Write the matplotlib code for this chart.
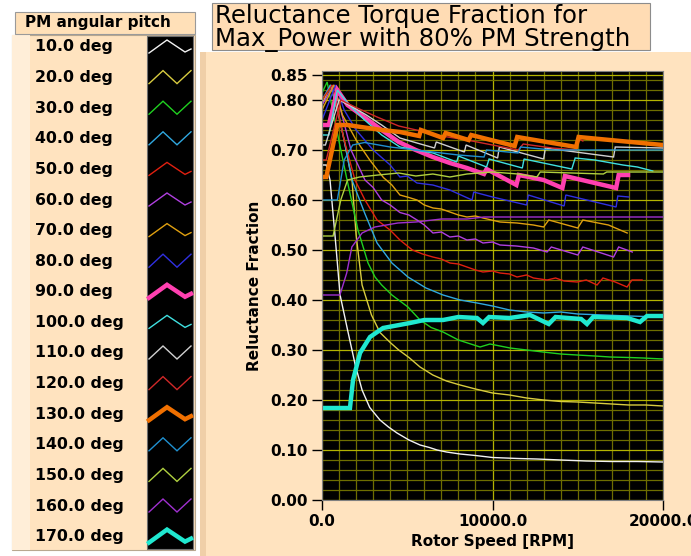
import matplotlib
matplotlib.use("Agg")
import matplotlib.pyplot as plt
from matplotlib.patches import Rectangle
from matplotlib.ticker import MultipleLocator, FormatStrFormatter

# ---- data (rotor speed in RPM, reluctance fraction) ----
rpm_10 = [0, 250, 470, 760, 1060, 1500, 1950, 2350, 2800, 3400, 3900, 4400, 5100, 5750, 6300,
          6750, 7300, 8100, 9000, 10000, 11500, 12600, 14000, 15500, 17000, 18500, 20000]
rf_10 = [0.67, 0.67, 0.64, 0.53, 0.41, 0.34, 0.27, 0.22, 0.185, 0.16, 0.146, 0.134, 0.12, 0.11, 0.105,
         0.10, 0.096, 0.092, 0.089, 0.085, 0.083, 0.082, 0.080, 0.078, 0.077, 0.077, 0.076]

rpm_20 = [0, 500, 900, 1300, 1760, 2000, 2350, 2900, 3400, 4000, 4500, 5100, 5750, 6500, 7300,
          8100, 9000, 10000, 11000, 12000, 13000, 14000, 15000, 16000, 17000, 18000, 19000, 20000]
rf_20 = [0.79, 0.83, 0.78, 0.72, 0.64, 0.53, 0.43, 0.37, 0.335, 0.315, 0.30, 0.285, 0.266, 0.25, 0.238,
         0.23, 0.222, 0.214, 0.21, 0.204, 0.20, 0.197, 0.196, 0.194, 0.192, 0.19, 0.19, 0.188]

rpm_30 = [0, 300, 800, 1470, 2110, 2700, 3110, 3500, 4100, 5040, 5750, 6400, 7100, 8000, 9270,
          9850, 11030, 12000, 12960, 14000, 14960, 16000, 16890, 18000, 18830, 20000]
rf_30 = [0.814, 0.836, 0.75, 0.64, 0.54, 0.474, 0.446, 0.43, 0.41, 0.386, 0.36, 0.345, 0.336, 0.32, 0.306,
         0.312, 0.304, 0.30, 0.296, 0.292, 0.29, 0.288, 0.286, 0.285, 0.284, 0.282]

rpm_40 = [0, 500, 1060, 1760, 2500, 3230, 4100, 5040, 6100, 7100, 8100, 9100, 10000, 11000, 12000,
          13000, 14000, 15000, 16500, 18000, 20000]
rf_40 = [0.80, 0.83, 0.76, 0.64, 0.574, 0.514, 0.474, 0.446, 0.424, 0.41, 0.40, 0.394, 0.388, 0.38, 0.376,
         0.374, 0.376, 0.372, 0.37, 0.368, 0.366]

rpm_50 = [0, 600, 1300, 1935, 2520, 3230, 3990, 4570, 5300, 5900, 6500, 7000, 7500, 8000, 8500,
          9000, 9440, 10000, 10440, 11000, 11440, 12000, 12400, 13200, 13700, 14200, 14960, 15500,
          16130, 16480, 17200, 17890, 18180, 18770]
rf_50 = [0.80, 0.83, 0.72, 0.64, 0.60, 0.56, 0.54, 0.52, 0.50, 0.492, 0.486, 0.482, 0.474, 0.472, 0.466,
         0.46, 0.456, 0.458, 0.454, 0.452, 0.446, 0.45, 0.444, 0.44, 0.444, 0.438, 0.436, 0.44,
         0.43, 0.444, 0.436, 0.426, 0.44, 0.44]

rpm_60 = [0, 700, 1100, 1700, 2520, 3000, 3500, 4000, 4570, 5100, 5570, 6000, 6510, 7000, 7500,
          8000, 8500, 9000, 9440, 10000, 10440, 11400, 12400, 13200, 13450, 15000, 15300, 17100,
          17400, 18200]
rf_60 = [0.79, 0.83, 0.78, 0.70, 0.64, 0.625, 0.60, 0.59, 0.575, 0.57, 0.56, 0.55, 0.534, 0.536, 0.526,
         0.528, 0.52, 0.522, 0.514, 0.516, 0.51, 0.508, 0.504, 0.496, 0.506, 0.49, 0.506, 0.486,
         0.506, 0.496]

rpm_70 = [0, 700, 1200, 2000, 2800, 3600, 4100, 4570, 5100, 5570, 6000, 6510, 7000, 7500, 8000,
          8500, 9000, 9440, 10440, 11440, 12400, 13000, 13300, 15000, 15300, 16800, 17900]
rf_70 = [0.78, 0.83, 0.77, 0.72, 0.68, 0.645, 0.63, 0.61, 0.605, 0.60, 0.59, 0.584, 0.582, 0.576, 0.57,
         0.566, 0.568, 0.564, 0.556, 0.554, 0.55, 0.546, 0.56, 0.544, 0.56, 0.55, 0.534]

rpm_80 = [0, 800, 1300, 2000, 3000, 4000, 4570, 5000, 5570, 6500, 7500, 8800, 8900, 10000, 12000,
          12100, 14200, 14300, 17250, 17350, 18000]
rf_80 = [0.76, 0.83, 0.78, 0.74, 0.70, 0.67, 0.646, 0.648, 0.634, 0.63, 0.62, 0.60, 0.616, 0.606, 0.59,
         0.61, 0.588, 0.61, 0.586, 0.608, 0.606]

rpm_90 = [0, 400, 900, 1500, 2500, 3500, 4500, 5500, 6500, 7500, 8500, 9500, 9650, 11400, 11550,
          13000, 14100, 14250, 17250, 17400, 17950]
rf_90 = [0.75, 0.75, 0.82, 0.79, 0.765, 0.74, 0.716, 0.70, 0.686, 0.674, 0.664, 0.652, 0.662, 0.63, 0.65,
         0.64, 0.624, 0.648, 0.624, 0.65, 0.65]

rpm_100 = [0, 400, 900, 1600, 2500, 3500, 4570, 5500, 6510, 7900, 8000, 9650, 9800, 11750, 11850,
           14650, 14850, 16000, 17650, 18500, 19400]
rf_100 = [0.73, 0.73, 0.82, 0.79, 0.76, 0.73, 0.706, 0.70, 0.694, 0.676, 0.688, 0.666, 0.682, 0.664, 0.682,
          0.662, 0.684, 0.68, 0.67, 0.666, 0.658]

rpm_110 = [0, 200, 1000, 1800, 2600, 3500, 4570, 5570, 6600, 6700, 8350, 8450, 10300, 10400, 13000,
           13100, 17100, 17200, 20000]
rf_110 = [0.71, 0.71, 0.80, 0.786, 0.77, 0.75, 0.724, 0.714, 0.704, 0.716, 0.696, 0.71, 0.684, 0.706, 0.682,
          0.704, 0.686, 0.706, 0.704]

rpm_120 = [0, 250, 1100, 2000, 3230, 4500, 5800, 7000, 8500, 10000, 11500, 11800, 13500, 14900, 15100, 15300]
rf_120 = [0.68, 0.68, 0.80, 0.785, 0.766, 0.748, 0.738, 0.728, 0.72, 0.71, 0.70, 0.712, 0.704, 0.70, 0.722, 0.718]

rpm_130 = [0, 250, 900, 1500, 2500, 3500, 4570, 5700, 5800, 7100, 7250, 8600, 8750, 11300, 11450,
           14900, 15050, 17500, 20000]
rf_130 = [0.646, 0.646, 0.75, 0.75, 0.745, 0.74, 0.736, 0.728, 0.74, 0.724, 0.734, 0.72, 0.73, 0.708, 0.726,
          0.706, 0.726, 0.718, 0.71]

rpm_140 = [0, 900, 1300, 1800, 2500, 4000, 5500, 7000, 8000, 9500, 9650, 11500, 11650, 13500, 14600,
           16000, 18000, 20000]
rf_140 = [0.60, 0.60, 0.68, 0.71, 0.715, 0.706, 0.70, 0.694, 0.69, 0.686, 0.70, 0.694, 0.706, 0.70, 0.70,
          0.70, 0.70, 0.70]

rpm_150 = [0, 650, 1100, 1500, 2200, 3300, 4500, 5500, 6500, 7500, 8500, 10000, 11500, 12600, 12800,
           16500, 16700, 20000]
rf_150 = [0.528, 0.528, 0.60, 0.64, 0.646, 0.65, 0.654, 0.648, 0.652, 0.646, 0.652, 0.656, 0.652, 0.646, 0.656,
          0.652, 0.656, 0.656]

rpm_160 = [0, 1050, 1450, 1750, 2350, 3100, 4450, 5500, 7000, 8500, 9500, 20000]
rf_160 = [0.41, 0.41, 0.454, 0.506, 0.534, 0.546, 0.554, 0.556, 0.562, 0.562, 0.566, 0.566]

rpm_170 = [0, 1640, 1820, 2230, 2815, 3580, 5160, 6000, 7100, 8000, 9090, 9440, 9800, 11000, 12200,
           13300, 13700, 15200, 15540, 15900, 17900, 18650, 19060, 20000]
rf_170 = [0.184, 0.184, 0.24, 0.294, 0.326, 0.344, 0.354, 0.36, 0.36, 0.366, 0.364, 0.354, 0.366, 0.364, 0.37,
          0.352, 0.366, 0.362, 0.352, 0.366, 0.364, 0.356, 0.368, 0.368]

pitches = ["10.0 deg", "20.0 deg", "30.0 deg", "40.0 deg", "50.0 deg", "60.0 deg", "70.0 deg",
           "80.0 deg", "90.0 deg", "100.0 deg", "110.0 deg", "120.0 deg", "130.0 deg", "140.0 deg",
           "150.0 deg", "160.0 deg", "170.0 deg"]
speeds = [rpm_10, rpm_20, rpm_30, rpm_40, rpm_50, rpm_60, rpm_70, rpm_80, rpm_90,
          rpm_100, rpm_110, rpm_120, rpm_130, rpm_140, rpm_150, rpm_160, rpm_170]
fractions = [rf_10, rf_20, rf_30, rf_40, rf_50, rf_60, rf_70, rf_80, rf_90,
             rf_100, rf_110, rf_120, rf_130, rf_140, rf_150, rf_160, rf_170]

colors = ["#F2F2F2", "#D8CC40", "#20D020", "#30A8E0", "#E02010", "#B040E0", "#E0A010", "#3030E0",
          "#FF40B0", "#40E0E0", "#D0D0D0", "#D02828", "#F07000", "#2090D0", "#B0D040", "#A030D0", "#20E8D0"]
widths = [1.0] * 17
widths[8] = widths[12] = widths[16] = 3.2

beige = "#FFE3BF"
fig = plt.figure(figsize=(6.91, 5.56), dpi=100, facecolor="white")

# background drawing layer in pixel coordinates
bg = fig.add_axes([0, 0, 1, 1], zorder=-5)
bg.set_xlim(0, 691)
bg.set_ylim(556, 0)
bg.axis("off")

# main graph panel and title box
bg.add_patch(Rectangle((200, 52), 491, 504, facecolor=beige, edgecolor="none"))
bg.add_patch(Rectangle((200, 52), 6, 504, facecolor="#F0CFA8", edgecolor="none"))
bg.add_patch(Rectangle((212, 3), 438, 47, facecolor="#FFDCB4", edgecolor="#8C8C8C", lw=0.8))
bg.text(215, 28, "Reluctance Torque Fraction for\nMax_Power with 80% PM Strength",
        fontsize=17.6, va="center", ha="left", color="black", linespacing=0.92)

# legend
bg.add_patch(Rectangle((12, 35), 183, 515, facecolor=beige, edgecolor="#B8A890", lw=0.8))
bg.add_patch(Rectangle((12, 35), 18, 515, facecolor="#FFEED8", edgecolor="none"))
bg.add_patch(Rectangle((15, 12), 180, 22, facecolor="#FFE0B8", edgecolor="#9A9A9A", lw=0.8))
bg.text(25, 23, "PM angular pitch", fontsize=11, fontweight="bold", va="center", ha="left")
bg.add_patch(Rectangle((147, 36), 46, 513, facecolor="black", edgecolor="#707070", lw=0.8))
peak = ([0, 18, 36, 42], [6, -7, 5, 2])
notch = ([0, 14, 28, 42], [6, -7, 6, -7])
for i, name in enumerate(pitches):
    yc = 47 + 30.6 * i
    bg.text(35, yc, name, fontsize=11.3, fontweight="bold", va="center", ha="left")
    sx, sy = peak if i in (0, 4, 5, 6, 8, 9, 12, 16) else notch
    bg.plot([149 + v for v in sx], [yc + v for v in sy], color=colors[i],
            lw=widths[i], solid_joinstyle="miter")

# plot area
ax = fig.add_axes([322 / 691, 1 - 500 / 556, 341 / 691, 429 / 556])
ax.set_facecolor("black")
for i in range(len(pitches)):
    ax.plot(speeds[i], fractions[i], color=colors[i], lw=widths[i], solid_joinstyle="miter")

ax.set_xlim(0, 20000)
ax.set_ylim(0, 0.858)
ax.set_xticks([0, 10000, 20000])
ax.set_yticks([0.0, 0.1, 0.2, 0.3, 0.4, 0.5, 0.6, 0.7, 0.8, 0.85])
ax.xaxis.set_major_formatter(FormatStrFormatter("%.1f"))
ax.yaxis.set_major_formatter(FormatStrFormatter("%.2f"))
ax.xaxis.set_minor_locator(MultipleLocator(1000))
ax.yaxis.set_minor_locator(MultipleLocator(0.02))
ax.grid(which="minor", color="#6E6E00", lw=0.9)
ax.grid(which="major", color="#B4B400", lw=0.9)
ax.set_axisbelow(True)
ax.tick_params(which="major", direction="out", length=7, width=1, color="black", pad=3, labelsize=11)
ax.tick_params(which="minor", length=0)
for lab in ax.get_xticklabels() + ax.get_yticklabels():
    lab.set_fontweight("bold")
for sp in ax.spines.values():
    sp.set_color("#808080")
ax.set_xlabel("Rotor Speed [RPM]", fontsize=11, fontweight="bold", labelpad=4)
ax.set_ylabel("Reluctance Fraction", fontsize=11, fontweight="bold", labelpad=6)

fig.savefig("out.png", dpi=100, facecolor="white")
